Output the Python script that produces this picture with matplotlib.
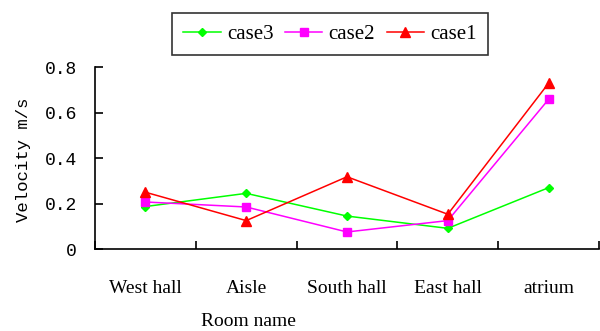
import matplotlib
matplotlib.use("Agg")
import matplotlib.pyplot as plt
import numpy as np

rooms = ["West hall", "Aisle", "South hall", "East hall", "atrium"]
case1 = [0.25, 0.125, 0.318, 0.153, 0.73]
case2 = [0.207, 0.185, 0.075, 0.125, 0.659]
case3 = [0.187, 0.245, 0.145, 0.091, 0.27]
yticks = [0, 0.2, 0.4, 0.6, 0.8]
ytick_labels = ["0", "0.2", "0.4", "0.6", "0.8"]

fig = plt.figure(figsize=(6.0, 3.31), dpi=100)
ax = fig.add_axes([95 / 600, 1 - 249 / 331, 504 / 600, (249 - 67.3) / 331])

x = np.arange(len(rooms)) + 0.5
l3, = ax.plot(x, case3, color="#00ff00", lw=1.1, marker="D", ms=4.5, label="case3")
l2, = ax.plot(x, case2, color="#ff00ff", lw=1.1, marker="s", ms=5.5, label="case2")
l1, = ax.plot(x, case1, color="#ff0000", lw=1.1, marker="^", ms=6.5, label="case1")

ax.set_xlim(0, len(rooms))
ax.set_ylim(0, 0.8)
ax.set_xticks(np.arange(len(rooms) + 1))
ax.set_xticklabels([])
ax.set_xticks(x, minor=True)
ax.set_xticklabels(rooms, minor=True, family="Liberation Serif", fontsize=14)
ax.tick_params(axis="x", which="minor", length=0, pad=22)
ax.tick_params(axis="x", which="major", direction="in", length=6, width=1.2)
ax.set_yticks(yticks)
ax.set_yticklabels(ytick_labels, family="Liberation Mono", fontsize=13)
ax.tick_params(axis="y", direction="in", length=6, width=1.2, pad=13)

for s in ("top", "right"):
    ax.spines[s].set_visible(False)
for s in ("left", "bottom"):
    ax.spines[s].set_linewidth(1.2)

fig.text(248 / 600, 1 - 322 / 331, "Room name", ha="center", va="center",
         family="Liberation Serif", fontsize=14)
fig.text(24 / 600, 1 - 160 / 331, "Velocity m/s", ha="center", va="center",
         rotation=90, family="Liberation Mono", fontsize=12.5)

leg = fig.legend(handles=[l3, l2, l1], loc="center",
                 bbox_to_anchor=(330 / 600, 1 - 34 / 331), ncol=3,
                 frameon=True, fancybox=False, edgecolor="black",
                 handlelength=1.8, handletextpad=0.3, columnspacing=0.55,
                 borderpad=0.55, prop={"family": "Liberation Serif", "size": 15})
leg.get_frame().set_linewidth(1.2)

fig.savefig("out.png", dpi=100, facecolor="white")
